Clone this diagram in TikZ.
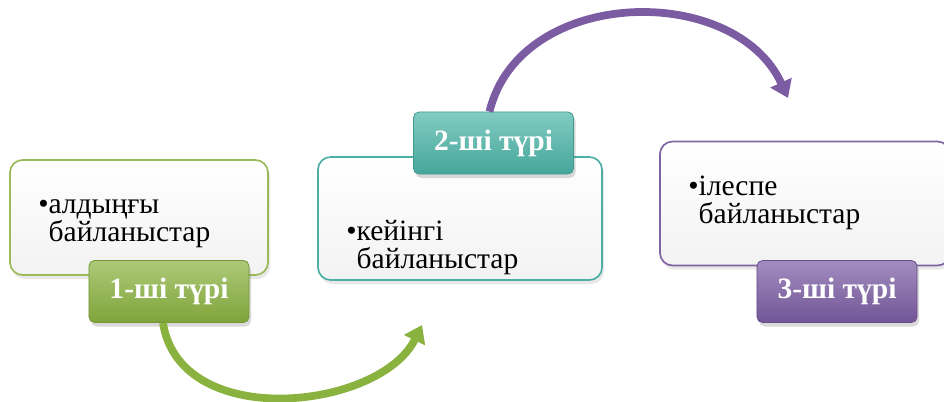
\documentclass[tikz,border=0pt]{standalone}
\usepackage{fontspec}
\setmainfont{Liberation Serif}
\usetikzlibrary{arrows.meta,shadows}

\definecolor{grnline}{HTML}{9BBB59}
\definecolor{grnfill}{HTML}{8AB23F}
\definecolor{tealline}{HTML}{4BB0A3}
\definecolor{tealfill}{HTML}{4CB5A8}
\definecolor{purpline}{HTML}{8064A2}
\definecolor{purpfill}{HTML}{7B5CA3}

\tikzset{
  infobox/.style={draw=#1, line width=1.2pt, rounded corners=9pt,
    top color=white, bottom color=black!5,
    drop shadow={opacity=0.18, shadow xshift=0.05cm, shadow yshift=-0.1cm}},
  typelabel/.style={draw=#1!85!black, line width=0.6pt, rounded corners=4pt,
    top color=#1!70!white, bottom color=#1!92!black, text=white,
    minimum width=4.0cm, minimum height=1.55cm,
    font=\bfseries\fontsize{21}{24}\selectfont,
    drop shadow={opacity=0.3, shadow xshift=0.05cm, shadow yshift=-0.1cm}},
  itemtext/.style={align=left, inner sep=0pt, anchor=north west,
    font=\fontsize{21}{20}\selectfont},
  curvearrow/.style={draw=#1, line width=5.5pt,
    -{Triangle[width=16pt,length=12pt]}}
}

\begin{document}
\begin{tikzpicture}[x=0.025cm,y=-0.025cm]
\useasboundingbox (0,0) rectangle (944,401);
% boxes
\node[infobox=grnline, minimum width=6.45cm, minimum height=2.875cm] (box1) at (139,217.5) {};
\node[infobox=tealline, minimum width=7.1cm, minimum height=3.075cm] (box2) at (460,218.5) {};
\node[infobox=purpline, minimum width=7.25cm, minimum height=3.1cm] (box3) at (805,203.5) {};
% texts
\node[itemtext] (txt1) at (38,199) {\textbullet алдыңғы\\\phantom{\textbullet}байланыстар};
\node[itemtext] (txt2) at (346,220) {\textbullet кейінгі\\\phantom{\textbullet}байланыстар};
\node[itemtext] (txt3) at (688,176) {\textbullet ілеспе\\\phantom{\textbullet}байланыстар};
% labels
\node[typelabel=grnfill] (lab1) at (169,291.5) {1-ші түрі};
\node[typelabel=tealfill] (lab2) at (493.5,143) {2-ші түрі};
\node[typelabel=purpfill] (lab3) at (837,291.5) {3-ші түрі};
% arrows
\coordinate (end1) at (422,325);
\coordinate (end2) at (788,98);
\draw[curvearrow=grnfill] ([xshift=-0.15cm]lab1.south) .. controls (180,432) and (380,410) .. (end1);
\draw[curvearrow=purpfill] ([xshift=-0.1cm]lab2.north) .. controls (520,-14) and (735,-18) .. (end2);
\end{tikzpicture}
\end{document}
